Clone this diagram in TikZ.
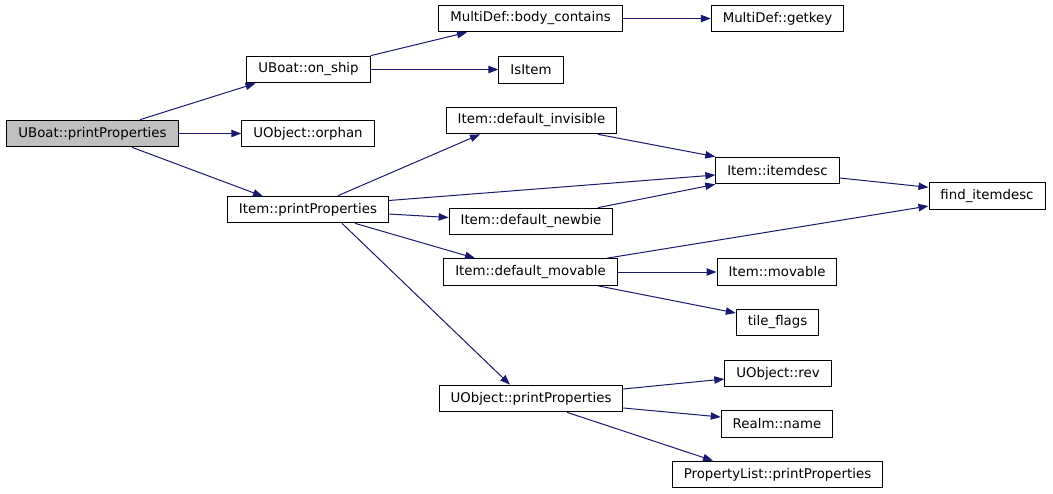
\documentclass[tikz,border=0pt]{standalone}
\usepackage{fontspec}
\setmainfont{DejaVu Sans}
\usetikzlibrary{arrows.meta,calc}
\definecolor{callblue}{HTML}{191970}
\definecolor{rootgray}{HTML}{BFBFBF}
\begin{document}
\begin{tikzpicture}[x=0.75pt, y=-0.75pt,
	fn/.style={draw=black, line width=0.75pt, fill=white, inner xsep=8.6pt, inner ysep=0pt,
		minimum height=20pt, font=\fontsize{10}{12}\selectfont},
	root/.style={fn, fill=rootgray},
	call/.style={draw=callblue, line width=0.75pt, -{Triangle[length=7.5pt,width=5.5pt]}}]
	\useasboundingbox (0,0) rectangle (1053,493);
	% nodes
	\node[root] (upp) at (92.5,133.5) {UBoat::printProperties};
	\node[fn] (onship) at (308.5,69.5) {UBoat::on\_ship};
	\node[fn] (orphan) at (308,133.5) {UObject::orphan};
	\node[fn] (ipp) at (308,209.5) {Item::printProperties};
	\node[fn] (bodyc) at (530.5,18.5) {MultiDef::body\_contains};
	\node[fn] (getkey) at (777.5,18.5) {MultiDef::getkey};
	\node[fn] (isitem) at (531,70) {IsItem};
	\node[fn] (dinv) at (531.5,120.5) {Item::default\_invisible};
	\node[fn] (itemdesc) at (777.5,170.5) {Item::itemdesc};
	\node[fn] (findid) at (987,196) {find\_itemdesc};
	\node[fn] (dnewbie) at (531,221.5) {Item::default\_newbie};
	\node[fn] (dmov) at (530.5,272) {Item::default\_movable};
	\node[fn] (movable) at (777,272) {Item::movable};
	\node[fn] (tileflags) at (777.5,322.5) {tile\_flags};
	\node[fn] (urev) at (778,373.5) {UObject::rev};
	\node[fn] (opp) at (531,398.5) {UObject::printProperties};
	\node[fn] (rname) at (777,424) {Realm::name};
	\node[fn] (plpp) at (777.5,474.5) {PropertyList::printProperties};
	% calls from UBoat::printProperties
	\draw[call] ($(upp.north)+(47.5,0)$) -- ($(onship.south)+(-53,0)$);
	\draw[call] (upp.east) -- (orphan.west);
	\draw[call] ($(upp.south)+(39.5,0)$) -- ($(ipp.south)+(-45,-27)$);
	% calls from UBoat::on_ship
	\draw[call] (onship.north east) -- ($(bodyc.south)+(-63.5,0)$);
	\draw[call] (onship.east) -- (onship.east -| isitem.west);
	\draw[call] (bodyc.east) -- (getkey.west);
	% calls from Item::printProperties
	\draw[call] ($(ipp.north)+(30,0)$) -- ($(dinv.south)+(-51.5,0)$);
	\draw[call] ($(ipp.east)+(0,-9)$) -- ($(itemdesc.west)+(0,4.5)$);
	\draw[call] ($(ipp.east)+(0,4.5)$) -- ($(dnewbie.west)+(0,-4)$);
	\draw[call] ($(ipp.south)+(47,0)$) -- ($(dmov.north)+(-55.5,0)$);
	\draw[call] ($(ipp.south)+(34,0)$) -- ($(opp.north)+(-21,0)$);
	% to Item::itemdesc and find_itemdesc
	\draw[call] ($(dinv.south)+(66.5,0)$) -- (itemdesc.north west);
	\draw[call] ($(dnewbie.north)+(67,0)$) -- (itemdesc.south west);
	\draw[call] ($(itemdesc.east)+(0,7.5)$) -- ($(findid.west)+(0,-8.7)$);
	\draw[call] ($(dmov.north)+(76.5,0)$) -- ($(findid.west)+(0,10)$);
	% calls from Item::default_movable
	\draw[call] (dmov.east) -- (movable.west);
	\draw[call] ($(dmov.south)+(67.5,0)$) -- ($(tileflags.west)+(0,-9.5)$);
	% calls from UObject::printProperties
	\draw[call] ($(opp.east)+(0,-9.5)$) -- ($(urev.west)+(0,5.5)$);
	\draw[call] ($(opp.east)+(0,9.5)$) -- ($(rname.west)+(0,-7)$);
	\draw[call] ($(opp.south)+(36,0)$) -- ($(plpp.north)+(-64.5,0)$);
\end{tikzpicture}
\end{document}
